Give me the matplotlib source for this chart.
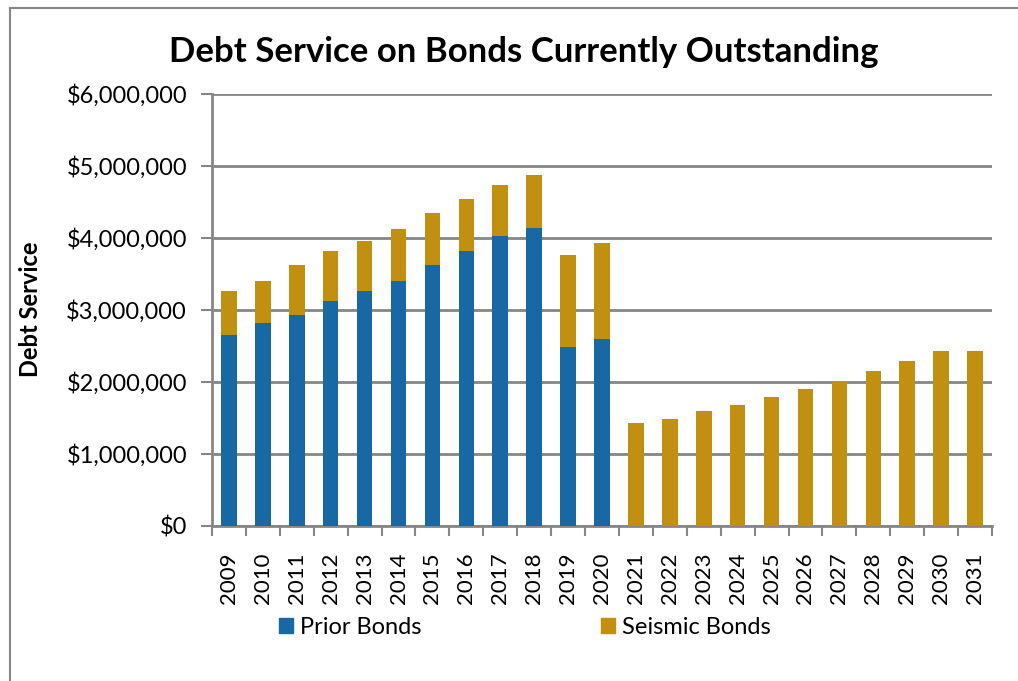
import numpy as np
import matplotlib.pyplot as plt
from matplotlib.lines import Line2D
from matplotlib.patches import Patch
from matplotlib.ticker import FuncFormatter, MultipleLocator

plt.rcParams['font.family'] = ['Lato', 'DejaVu Sans']

years = [str(y) for y in range(2009, 2032)]
# values in dollars
prior_bonds = [2650000, 2810000, 2920000, 3120000, 3260000, 3400000, 3620000,
               3810000, 4030000, 4140000, 2480000, 2590000,
               0, 0, 0, 0, 0, 0, 0, 0, 0, 0, 0]
total_service = [3260000, 3400000, 3620000, 3810000, 3950000, 4120000, 4340000,
                 4540000, 4730000, 4870000, 3760000, 3920000,
                 1430000, 1480000, 1590000, 1680000, 1790000, 1900000, 2010000,
                 2150000, 2290000, 2430000, 2430000]
seismic_bonds = [t - p for t, p in zip(total_service, prior_bonds)]

blue = '#1868a4'
gold = '#c29011'
grey = '#868686'

fig = plt.figure(figsize=(10.18, 6.81), dpi=100)
ax = fig.add_axes([212 / 1018, 1 - 525.7 / 681, 780 / 1018, (525.7 - 93.7) / 681])

x = np.arange(len(years))
ax.bar(x, prior_bonds, width=0.46, color=blue, zorder=3)
ax.bar(x, seismic_bonds, width=0.46, bottom=prior_bonds, color=gold, zorder=3)

ax.set_xlim(-0.5, len(years) - 0.5)
ax.set_ylim(0, 6000000)
ax.yaxis.set_major_locator(MultipleLocator(1000000))
ax.yaxis.set_major_formatter(FuncFormatter(lambda v, p: f'${v:,.0f}'))
ax.grid(axis='y', color=grey, linewidth=2, zorder=0)

ax.set_xticks(x)
ax.set_xticklabels(years, rotation=90, fontsize=16)
ax.set_xticks(np.arange(-0.5, len(years)), minor=True)
ax.tick_params(axis='x', which='major', length=0, pad=19)
ax.tick_params(axis='x', which='minor', length=7, width=1.5, color=grey)
ax.tick_params(axis='y', length=8, width=1.5, color=grey, labelsize=17, pad=10)

for side in ['top', 'right']:
    ax.spines[side].set_visible(False)
for side in ['left', 'bottom']:
    ax.spines[side].set_color(grey)
    ax.spines[side].set_linewidth(2)

ax.set_ylabel('Debt Service', fontsize=17, fontweight='bold')
ax.yaxis.set_label_coords(-0.218, 0.5)
fig.text(524 / 1018, 1 - 52 / 681, 'Debt Service on Bonds Currently Outstanding',
         ha='center', va='center', fontsize=25, fontweight='bold')

handles = [Patch(color=blue, label='Prior Bonds'), Patch(color=gold, label='Seismic Bonds')]
fig.legend(handles=handles, loc='center', bbox_to_anchor=(525 / 1018, 1 - 627 / 681),
           ncol=2, frameon=False, fontsize=17, handlelength=0.6, handleheight=0.6,
           handletextpad=0.3, columnspacing=7.6)

# outer chart border
fig.add_artist(Line2D([10 / 1018, 10 / 1018], [0, 1 - 8 / 681], transform=fig.transFigure,
                      color=grey, linewidth=1.5))
fig.add_artist(Line2D([10 / 1018, 1], [1 - 8 / 681, 1 - 8 / 681], transform=fig.transFigure,
                      color=grey, linewidth=1.5))

fig.savefig('out.png', dpi=100)
